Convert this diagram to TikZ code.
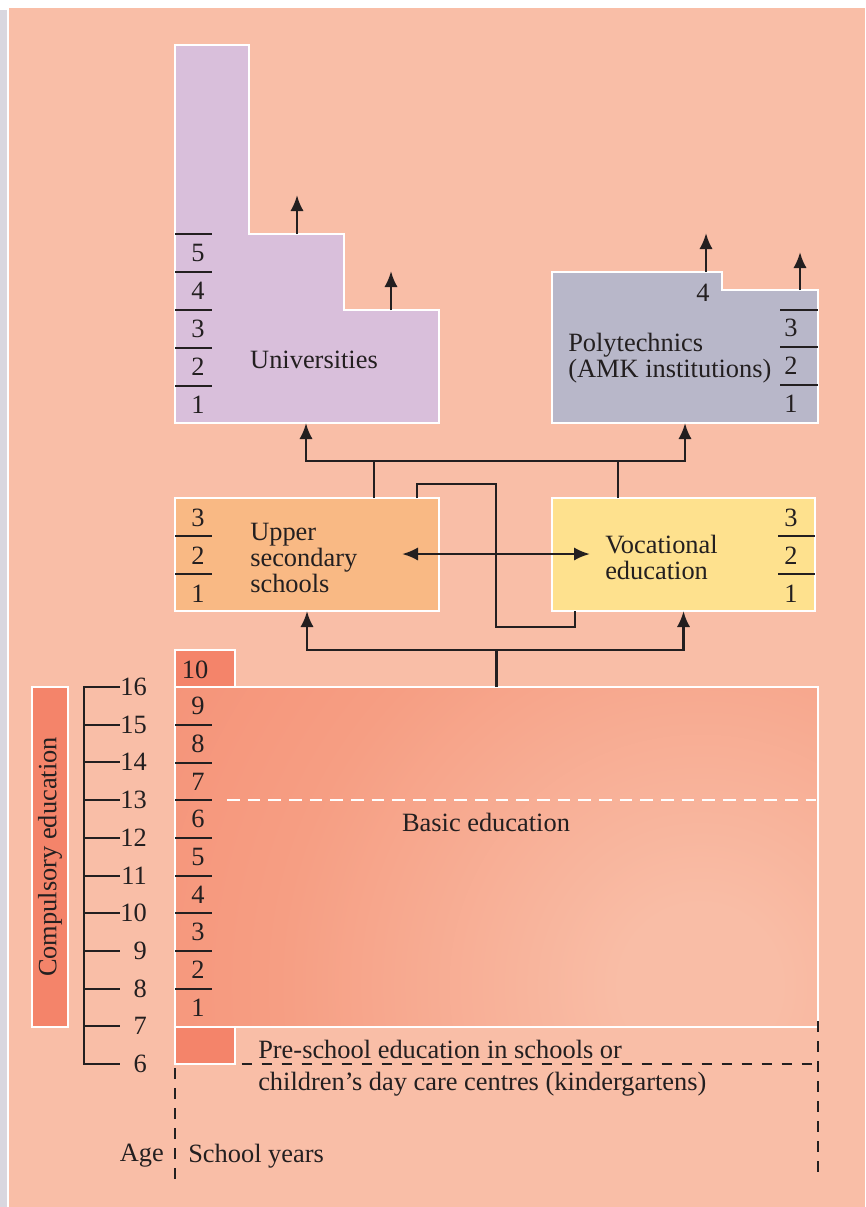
\documentclass[tikz,border=0pt]{standalone}
\usepackage{fontspec}
\setmainfont{Liberation Serif}
\usetikzlibrary{arrows.meta}
\definecolor{bg}{HTML}{F9BEA7}
\definecolor{edgegrey}{HTML}{D9D7DF}
\definecolor{unicol}{HTML}{D9BFDB}
\definecolor{polycol}{HTML}{B8B7C9}
\definecolor{upcol}{HTML}{F9B984}
\definecolor{voccol}{HTML}{FEE18E}
\definecolor{compcol}{HTML}{F4846A}
\definecolor{basicdark}{HTML}{F4846A}
\definecolor{basicmid}{HTML}{F69E83}
\definecolor{basiclight}{HTML}{F9BDA6}
\definecolor{txt}{HTML}{231F20}
\pgfdeclareradialshading{basicrad}{\pgfpoint{0bp}{0bp}}{color(0bp)=(basiclight); color(3bp)=(basiclight); color(16bp)=(basicmid); color(34bp)=(basicdark); color(50bp)=(basicdark)}
\begin{document}
\begin{tikzpicture}[x=0.75pt,y=-0.75pt,
  font=\fontsize{19.8}{19.5}\selectfont, text=txt,
  conn/.style={line width=2pt, draw=txt},
  arr/.style={conn, -{Latex[length=12pt,width=10pt]}},
  darr/.style={conn, {Latex[length=12pt,width=10pt]}-{Latex[length=12pt,width=10pt]}},
  wline/.style={draw=white, line width=1.6pt},
  wbox/.style={draw=white, line width=1.6pt, inner sep=0pt, outer sep=0pt},
  tickline/.style={line width=2pt, draw=txt},
  lbl/.style={inner sep=0pt},
  dashline/.style={line width=1.8pt, draw=txt, dash pattern=on 8pt off 7pt},
  wdash/.style={line width=1.8pt, draw=white, dash pattern=on 9.5pt off 6pt}]
\useasboundingbox (0,0) rectangle (865,1207);
\fill[white] (0,0) rectangle (865,1207);
\fill[edgegrey] (0,10) rectangle (7,1207);
\fill[bg] (9,8) rectangle (865,1207);

% ---------------- Universities
\draw[wline, fill=unicol] (175,45) -- (249,45) -- (249,234) -- (344,234) -- (344,310) -- (439,310) -- (439,423) -- (175,423) -- cycle;
\coordinate (uniS) at (306,423);
\coordinate (uniA) at (297,234); \coordinate (uniAe) at (297,195);
\coordinate (uniB) at (391,310); \coordinate (uniBe) at (391,271);
\foreach \y in {234,272,310,348,386} \draw[tickline] (175,\y) -- (212,\y);
\foreach \n/\y in {5/253,4/291,3/329,2/367,1/405} \node[lbl] (uy\n) at (198,\y) {\n};
\node[lbl] (unilabel) at (314,360) {Universities};
\draw[arr] (uniA) -- (uniAe);
\draw[arr] (uniB) -- (uniBe);

% ---------------- Polytechnics
\draw[wline, fill=polycol] (552,272) -- (722,272) -- (722,290) -- (818,290) -- (818,423) -- (552,423) -- cycle;
\coordinate (polyS) at (685,423);
\coordinate (polyA) at (706,272); \coordinate (polyAe) at (706,233);
\coordinate (polyB) at (800,290); \coordinate (polyBe) at (800,252);
\foreach \y in {310,347,385} \draw[tickline] (780,\y) -- (818,\y);
\foreach \n/\y in {3/328,2/366,1/404} \node[lbl] (py\n) at (791,\y) {\n};
\node[lbl] (py4) at (703,293) {4};
\node[lbl, align=left, anchor=west] (polylabel) at (568,358) {Polytechnics\\(AMK institutions)};
\draw[arr] (polyA) -- (polyAe);
\draw[arr] (polyB) -- (polyBe);

% ---------------- Upper secondary / Vocational
\node[wbox, fill=upcol, minimum width=198pt, minimum height=84.75pt] (upper) at (307,554.5) {};
\node[wbox, fill=voccol, minimum width=197.25pt, minimum height=84.75pt] (voc) at (683.5,554.5) {};
\foreach \y in {536,574} {\draw[tickline] (175,\y) -- (212,\y); \draw[tickline] (778,\y) -- (815,\y);}
\foreach \n/\y in {3/518,2/556,1/594} {\node[lbl] (us\n) at (198,\y) {\n}; \node[lbl] (vs\n) at (791,\y) {\n};}
\node[lbl, align=left, anchor=west] (uplabel) at (250,558) {Upper\\secondary\\schools};
\node[lbl, align=left, anchor=west] (voclabel) at (605,557) {Vocational\\education};

% connectors between levels
\coordinate (sA) at (374,461);
\coordinate (sB) at (618,461);
\draw[conn] (upper.north -| sA) -- (sA);
\draw[conn] (voc.north -| sB) -- (sB);
\draw[conn] (sA) -- (sB);
\draw[arr] (sA) -| (uniS);
\draw[arr] (sB) -| (polyS);

\coordinate (cA) at (417,484);
\coordinate (cB) at (496,484);
\coordinate (cC) at (496,627);
\coordinate (cD) at (575,627);
\draw[conn] (upper.north -| cA) -- (cA) -- (cB) -- (cC) -- (cD) -- (voc.south -| cD);

\coordinate (dL) at (402,554);
\coordinate (dR) at (590,554);
\draw[darr] (dL) -- (dR);

% ---------------- Basic education
\node[wbox, fill=compcol, minimum width=45pt, minimum height=27.75pt] (ten) at (205,668.5) {};
\node[lbl] (tenlabel) at (195,670) {10};
\node[inner sep=0pt, outer sep=0pt, minimum width=482.25pt, minimum height=255pt] (basic) at (496.5,857) {};
\begin{scope}
  \clip (basic.south west) rectangle (basic.north east);
  \shade[shading=basicrad] (700,985) circle (660);
\end{scope}
\draw[wline] (basic.south west) rectangle (basic.north east);
\foreach \y in {725,763,800,838,876,913,951,989} \draw[tickline] (175,\y) -- (212,\y);
\foreach \n/\y in {9/706,8/744,7/782,6/819,5/857,4/895,3/932,2/970,1/1008} \node[lbl] (b\n) at (198,\y) {\n};
\coordinate (wdL) at (227,800);
\coordinate (wdR) at (816,800);
\draw[wdash] (wdL) -- (wdR);
\node[lbl] (basiclabel) at (486,822) {Basic education};

\coordinate (sC) at (496.5,650);
\draw[conn] (basic.north) -- (sC);
\draw[arr] (sC) -| (upper.south);
\draw[arr] (sC) -| (voc.south);

% ---------------- Compulsory + age axis
\node[wbox, fill=compcol, rotate=90, minimum width=255pt, minimum height=27pt] (comp) at (50,857) {Compulsory education};
\coordinate (axT) at (84,687);
\coordinate (axB) at (84,1064);
\draw[conn] (120,687) -- (axT) -- (axB) -- (120,1064);
\foreach \y in {725,762,800,838,876,913,951,989,1026} \draw[conn] (84,\y) -- (120,\y);
\foreach \a/\y in {16/687,15/725,14/762,13/800,12/838,11/876,10/913,9/951,8/989,7/1026,6/1064}
  \node[lbl, anchor=east] (age\a) at (147,\y) {\a};

% ---------------- Pre-school
\node[wbox, fill=compcol, minimum width=45pt, minimum height=27.75pt] (pre) at (205,1045.5) {};
\coordinate (preR) at (818,1064);
\coordinate (dTR) at (818,1021);
\coordinate (dBR) at (818,1180);
\coordinate (dBL) at (175,1180);
\draw[dashline] ([xshift=5pt]pre.south east) -- (preR);
\draw[dashline] (dTR) -- (dBR);
\draw[dashline] ([yshift=-3pt]pre.south west) -- (dBL);
\node[lbl, anchor=west] (prelabel1) at (258,1049) {Pre-school education in schools or};
\node[lbl, anchor=west] (prelabel2) at (258,1084) {children’s day care centres (kindergartens)};
\node[lbl, anchor=east] (agelabel) at (164,1156) {Age};
\node[lbl, anchor=west] (sylabel) at (188,1156) {School years};
\end{tikzpicture}
\end{document}
